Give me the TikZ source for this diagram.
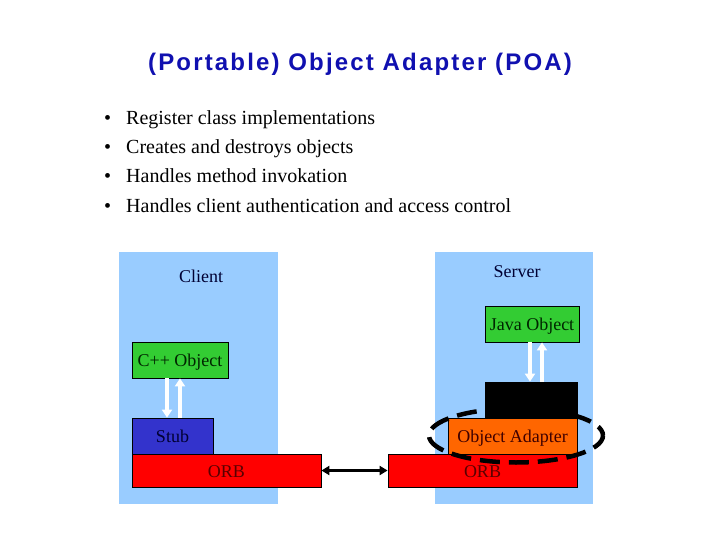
\documentclass[tikz,border=0pt]{standalone}
\usepackage{fontspec}
\setmainfont{Liberation Serif}
\newfontfamily\titlefont[LetterSpace=9]{Liberation Sans}
\usetikzlibrary{arrows.meta}
\definecolor{panelblue}{HTML}{99CCFF}
\definecolor{objgreen}{HTML}{33CC33}
\definecolor{stubblue}{HTML}{3333CC}
\definecolor{orbred}{HTML}{FF0000}
\definecolor{oaorange}{HTML}{FF6600}
\definecolor{titleblue}{HTML}{1010B0}
\definecolor{orbtext}{HTML}{5A0000}
\definecolor{darknavy}{HTML}{000033}
\tikzset{
  panel/.style={fill=panelblue, draw=none, inner sep=0pt},
  box/.style={draw=black, line width=0.8pt, inner sep=0pt, text height=13pt, text depth=0pt, font=\fontsize{18}{20}\selectfont},
  lbl/.style={font=\fontsize{18}{20}\selectfont, text=darknavy, inner sep=0pt},
  bul/.style={font=\fontsize{20}{24}\selectfont, anchor=base west, inner sep=0pt},
  wa/.style={draw=white, line width=4pt, -{Triangle[length=8pt,width=10pt]}},
  ba/.style={draw=black, line width=2.5pt, {Triangle[length=8pt,width=9pt]}-{Triangle[length=8pt,width=9pt]}},
}
\begin{document}
\begin{tikzpicture}[x=1pt,y=-1pt]
\useasboundingbox[fill=white] (0,0) rectangle (720,540);
% title
\node[anchor=base, inner sep=0pt, text=titleblue, font=\titlefont\bfseries\fontsize{24}{28}\selectfont] (title) at (360,71) {(Portable) Object Adapter (POA)};
% bullets
\foreach \t [count=\i] in {Register class implementations, Creates and destroys objects, Handles method invokation, Handles client authentication and access control}{
  \node[bul] (b\i) at (126,{96+29*\i}) {\t};
  \node[bul] (d\i) at (104,{96+29*\i}) {\textbullet};
}
% panels
\node[panel, minimum width=159, minimum height=252] (cpanel) at (198.5,378) {};
\node[panel, minimum width=158, minimum height=252] (spanel) at (514,378) {};
\node[lbl] (clientl) at (201,276) {Client};
\node[lbl] (serverl) at (517,272) {Server};
% client side
\node[box, fill=objgreen, text=black!85!green, minimum width=96, minimum height=36] (cpp) at (180,360) {C++ Object};
\node[box, fill=stubblue, text=darknavy, minimum width=81, minimum height=36] (stub) at (172.5,436) {Stub};
\node[box, fill=orbred, text=orbtext, minimum width=189, minimum height=33] (corb) at (226.5,470.5) {ORB};
% server side
\node[box, fill=orbred, text=orbtext, minimum width=189, minimum height=33] (sorb) at (482.5,470.5) {ORB};
\node[box, fill=black, minimum width=92, minimum height=36] (blk) at (531,400) {};
\node[box, fill=oaorange, text=orbtext!70!black, minimum width=129, minimum height=36] (oa) at (512.5,436) {Object Adapter};
\node[box, fill=objgreen, text=black!85!green, minimum width=94, minimum height=36] (java) at (532,324) {Java Object};
% arrows
\draw[wa] (cpp.south -| 167,0) -- (stub.north -| 167,0);
\draw[wa] (stub.north -| 180,0) -- (cpp.south -| 180,0);
\draw[wa] (java.south -| 530,0) -- (blk.north -| 530,0);
\draw[wa] (blk.north -| 542,0) -- (java.south -| 542,0);
\draw[ba] (corb.east) -- (sorb.west);
% dashed ellipse
\draw[black, line width=4.5pt, dash pattern=on 20pt off 9pt, dash phase=4pt] (oa.center) ++(3.5,-0.5) ellipse [x radius=87, y radius=27];
\end{tikzpicture}
\end{document}
